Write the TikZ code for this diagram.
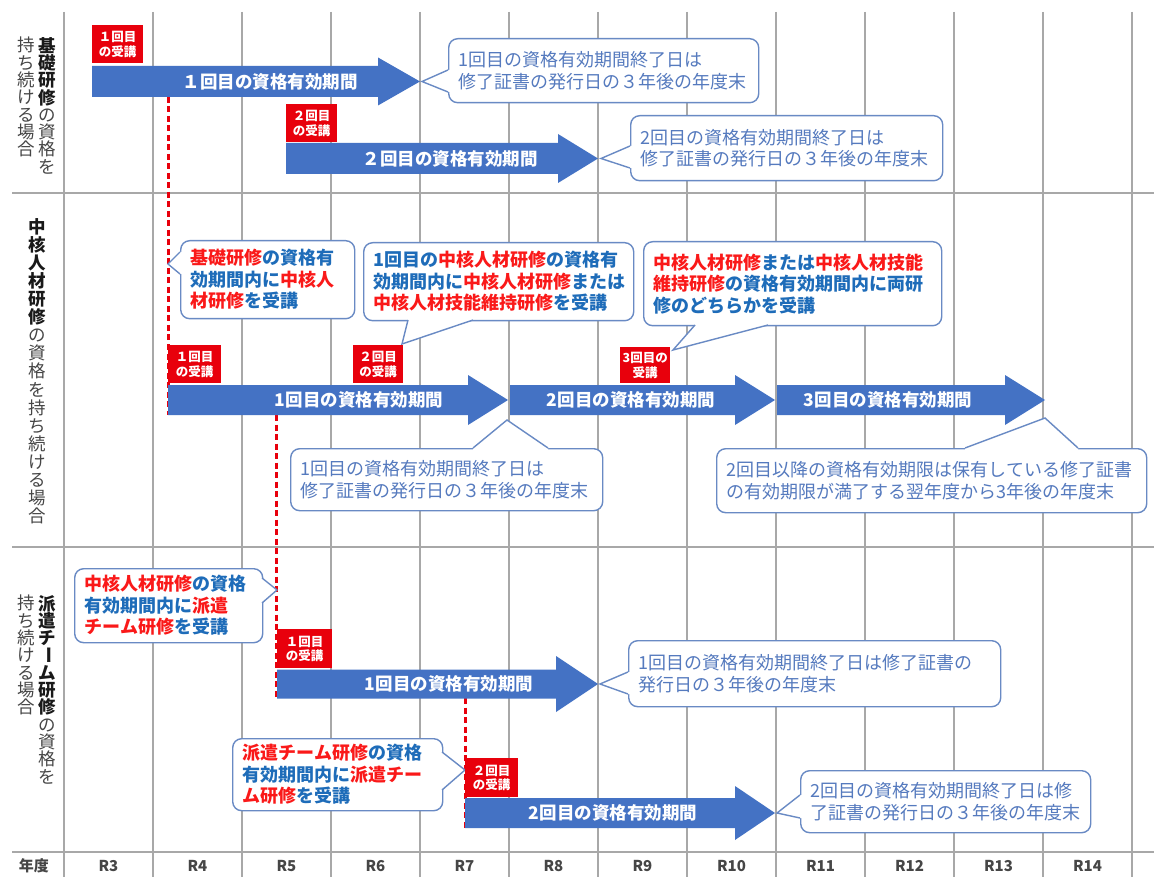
\documentclass[tikz,border=0pt]{standalone}
\usepackage{fontspec}
\setmainfont{Noto Sans CJK JP}
\usetikzlibrary{calc}
\definecolor{abl}{RGB}{68,114,196}
\definecolor{rbox}{RGB}{232,0,12}
\definecolor{cbd}{RGB}{105,138,196}
\definecolor{ctx}{RGB}{85,122,190}
\definecolor{bbl}{RGB}{30,108,185}
\definecolor{rtx}{RGB}{250,25,25}
\definecolor{gridc}{RGB}{168,168,168}
\definecolor{lbl}{RGB}{70,70,70}
\definecolor{lblb}{RGB}{25,25,25}
\newcommand\R[1]{\textcolor{rtx}{#1}}
\newcommand\B[1]{\textcolor{bbl}{#1}}
\newcommand\K[1]{\textcolor{lblb}{\bfseries #1}}
\newcommand\vbar{\raisebox{0.17em}[0pt][0pt]{\rotatebox[origin=c]{-90}{ー}}}
\tikzset{
 gridline/.style={draw=gridc, line width=1.3pt},
 redbox/.style={fill=rbox, text=white, font=\bfseries\fontsize{12.5}{14.5}\selectfont, inner sep=0pt, align=center, anchor=north west},
 calbox/.style={draw=cbd, line width=1.4pt, fill=white, rounded corners=9pt, align=left, inner xsep=10pt, inner ysep=0pt, anchor=north west, text=ctx, font=\fontsize{18}{21.5}\selectfont},
 arrtext/.style={text=white, font=\bfseries\fontsize{17.5}{20}\selectfont},
 reddash/.style={draw=rbox, line width=3pt, dash pattern=on 6pt off 3.5pt},
 ptr/.style={draw=cbd, line width=1.4pt, line join=miter},
 vlab/.style={text=lbl, font=\fontsize{17.5}{17.3}\selectfont, align=center, anchor=north, inner sep=0pt},
 vlab2/.style={text=lbl, font=\fontsize{17.5}{18.1}\selectfont, align=center, anchor=north, inner sep=0pt},
 yr/.style={text=lbl, font=\bfseries\fontsize{15}{17}\selectfont},
}
\newcommand\callout[6]{%
 \pgfmathsetmacro\cw{#4-#2-20}%
 \pgfmathsetmacro\ch{#5-#3}%
 \node[calbox, text width=\cw pt, minimum height=\ch pt] (#1) at (#2,#3) {#6};}
\newcommand\pointer[4]{%
 \fill[white] ($(#1)+(#4)$) -- (#1) -- (#2) -- (#3) -- ($(#3)+(#4)$) -- cycle;
 \draw[ptr] (#1) -- (#2) -- (#3);}
\newcommand\bluearrow[7]{%
 \fill[abl] (#2,#4-#5) -- (#3-#6,#4-#5) -- (#3-#6,#4-#7) -- (#3,#4) -- (#3-#6,#4+#7) -- (#3-#6,#4+#5) -- (#2,#4+#5) -- cycle;
 \coordinate (#1) at (#3,#4);}
\begin{document}
\begin{tikzpicture}[x=1pt,y=-1pt]
\useasboundingbox (0,0) rectangle (1154,877);
\fill[white] (0,0) rectangle (1154,877);
% grid
\foreach \k in {0,...,12} { \draw[gridline] (64+89*\k,12) -- (64+89*\k,877); }
\foreach \yy in {193,547,852} { \draw[gridline] (12,\yy) -- (1154,\yy); }
% year row
\node[yr] (yh) at (34,866) {年度};
\foreach \k/\r in {0/R3,1/R4,2/R5,3/R6,4/R7,5/R8,6/R9,7/R10,8/R11,9/R12,10/R13,11/R14} { \node[yr] (yr\k) at (108.5+89*\k,866) {\r}; }
% row labels
\node[vlab] (l1a) at (47,37) {\K{基}\\\K{礎}\\\K{研}\\\K{修}\\の\\資\\格\\を};
\node[vlab] (l1b) at (26,37) {持\\ち\\続\\け\\る\\場\\合};
\node[vlab2] (l2) at (37,218) {\K{中}\\\K{核}\\\K{人}\\\K{材}\\\K{研}\\\K{修}\\の\\資\\格\\を\\持\\ち\\続\\け\\る\\場\\合};
\node[vlab] (l3a) at (47,595) {\K{派}\\\K{遣}\\\K{チ}\\\K{\vbar}\\\K{ム}\\\K{研}\\\K{修}\\の\\資\\格\\を};
\node[vlab] (l3b) at (26,595) {持\\ち\\続\\け\\る\\場\\合};
% dashed guides
\coordinate (d1a) at (168,97); \coordinate (d1b) at (168,415);
\coordinate (d2a) at (276,415); \coordinate (d2b) at (276,698);
\coordinate (d3a) at (465,698); \coordinate (d3b) at (465,829);
\draw[reddash] (d1a) -- (d1b);
\draw[reddash] (d2a) -- (d2b);
\draw[reddash] (d3a) -- (d3b);
% ---- row 1
\bluearrow{a1}{92}{420}{81.5}{15.5}{42}{24}
\node[arrtext] (a1t) at (270,81.5) {１回目の資格有効期間};
\node[redbox, minimum width=51, minimum height=38] (rb1) at (92,25) {１回目\\の受講};
\bluearrow{a2}{286}{598}{158.5}{15.5}{40}{24.5}
\node[arrtext] (a2t) at (450,158.5) {２回目の資格有効期間};
\node[redbox, minimum width=51, minimum height=38] (rb2) at (286,104) {２回目\\の受講};
\callout{c1}{448}{38}{758}{102}{1回目の資格有効期間終了日は\\修了証書の発行日の３年後の年度末}
\pointer{448,70}{422,81.5}{448,92}{2.5,0}
\callout{c2}{630}{115}{942}{180}{2回目の資格有効期間終了日は\\修了証書の発行日の３年後の年度末}
\pointer{630,146}{601,158.5}{630,168}{2.5,0}
% ---- row 2
\callout{cA}{180}{240}{354}{318}{\bfseries\R{基礎研修}\B{の資格有}\\\B{効期間内に}\R{中核人}\\\R{材研修}\B{を受講}}
\pointer{180,252}{168,264}{180,274}{2.5,0}
\callout{cB}{363}{242}{633}{320}{\bfseries\B{1回目の}\R{中核人材研修}\B{の資格有}\\\B{効期間内に}\R{中核人材研修}\B{または}\\\R{中核人材技能維持研修}\B{を受講}}
\pointer{408,320}{402,344}{473,320}{0,-2.5}
\callout{cC}{643}{241}{941}{325}{\bfseries\R{中核人材研修}\B{または}\R{中核人材技能}\\\R{維持研修}\B{の資格有効期間内に両研}\\\B{修のどちらかを受講}}
\pointer{695,325}{673,350}{768,325}{0,-2.5}
\bluearrow{b1}{168}{508}{400}{15}{40}{25}
\node[arrtext] (b1t) at (359,400) {1回目の資格有効期間};
\bluearrow{b2}{510}{775}{400}{15}{40}{25}
\node[arrtext] (b2t) at (631,400) {2回目の資格有効期間};
\bluearrow{b3}{777}{1045}{400}{15}{40}{25}
\node[arrtext] (b3t) at (888,400) {3回目の資格有効期間};
\node[redbox, minimum width=53, minimum height=38] (rbA) at (168,345) {１回目\\の受講};
\node[redbox, minimum width=50, minimum height=38] (rbB) at (353,345) {２回目\\の受講};
\node[redbox, minimum width=50, minimum height=36] (rbC) at (620,347) {3回目の\\受講};
\callout{cD}{290}{448}{602}{510}{1回目の資格有効期間終了日は\\修了証書の発行日の３年後の年度末}
\pointer{473,448}{507,420}{548,448}{0,2.5}
\callout{cE}{716}{448}{1146}{512}{2回目以降の資格有効期限は保有している修了証書\\の有効期限が満了する翌年度から3年後の年度末}
\pointer{965,448}{1045,418}{1078,448}{0,2.5}
% ---- row 3
\callout{cF}{74}{568}{262}{642}{\bfseries\R{中核人材研修}\B{の資格}\\\B{有効期間内に}\R{派遣}\\\R{チーム研修}\B{を受講}}
\pointer{262,578}{277,590}{262,603}{-2.5,0}
\bluearrow{c1a}{277}{598}{684}{14.5}{42}{28}
\node[arrtext] (c1t) at (449,684) {1回目の資格有効期間};
\node[redbox, minimum width=55, minimum height=39] (rbD) at (277,629) {１回目\\の受講};
\callout{cG}{628}{640}{1000}{706}{1回目の資格有効期間終了日は修了証書の\\発行日の３年後の年度末}
\pointer{628,672}{600,684}{628,694}{2.5,0}
\callout{cH}{232}{738}{442}{810}{\bfseries\R{派遣チーム研修}\B{の資格}\\\B{有効期間内に}\R{派遣チー}\\\R{ム研修}\B{を受講}}
\pointer{442,752}{465,770}{442,790}{-2.5,0}
\bluearrow{c2a}{465}{775}{813}{15}{40}{27}
\node[arrtext] (c2t) at (613,813) {2回目の資格有効期間};
\node[redbox, minimum width=53, minimum height=39] (rbE) at (465,758) {２回目\\の受講};
\callout{cI}{800}{770}{1090}{832}{2回目の資格有効期間終了日は修\\了証書の発行日の３年後の年度末}
\pointer{800,795}{777,813}{800,818}{2.5,0}
\end{tikzpicture}
\end{document}
